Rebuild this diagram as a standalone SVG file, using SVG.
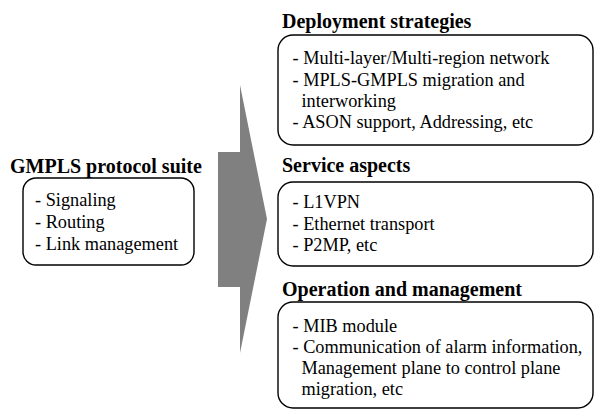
<svg xmlns="http://www.w3.org/2000/svg" width="594" height="411" viewBox="0 0 594 411">
  <style>
    .head { font-family: "Liberation Serif", "Times New Roman", serif; font-weight: bold; font-size: 20px; fill: #000; }
    .line { font-family: "Liberation Serif", "Times New Roman", serif; font-weight: normal; font-size: 18.3px; fill: #000; }
    .box { fill: #fff; stroke: #000; stroke-width: 1.4; }
    .flow { fill: #808080; stroke: none; }
  </style>
  <rect width="594" height="411" fill="#fff"/>

  <!-- big block arrow from the protocol suite to the application areas -->
  <g id="connectors">
    <polygon class="flow" points="218,152 240,152 240,85 267,219 240,353 240,287 218,287"/>
  </g>

  <g id="gmpls-suite">
    <text class="head" x="10" y="173">GMPLS protocol suite</text>
    <rect class="box" x="23" y="178" width="171" height="87" rx="13"/>
    <text class="line" x="35" y="206">- Signaling</text>
    <text class="line" x="35" y="228">- Routing</text>
    <text class="line" x="35" y="250">- Link management</text>
  </g>

  <g id="deployment">
    <text class="head" x="282" y="28">Deployment strategies</text>
    <rect class="box" x="278" y="35" width="315" height="110" rx="15"/>
    <text class="line" x="292.5" y="64">- Multi-layer/Multi-region network</text>
    <text class="line" x="292.5" y="86">- MPLS-GMPLS migration and</text>
    <text class="line" x="301.5" y="107">interworking</text>
    <text class="line" x="292.5" y="128">- ASON support, Addressing, etc</text>
  </g>

  <g id="service">
    <text class="head" x="282" y="172">Service aspects</text>
    <rect class="box" x="278" y="182" width="315" height="84" rx="15"/>
    <text class="line" x="292.5" y="208">- L1VPN</text>
    <text class="line" x="292.5" y="230">- Ethernet transport</text>
    <text class="line" x="292.5" y="251">- P2MP, etc</text>
  </g>

  <g id="operation">
    <text class="head" x="282" y="296">Operation and management</text>
    <rect class="box" x="278" y="302" width="315" height="106" rx="15"/>
    <text class="line" x="292.5" y="332">- MIB module</text>
    <text class="line" x="292.5" y="353">- Communication of alarm information,</text>
    <text class="line" x="301.5" y="374">Management plane to control plane</text>
    <text class="line" x="301.5" y="395">migration, etc</text>
  </g>
</svg>
